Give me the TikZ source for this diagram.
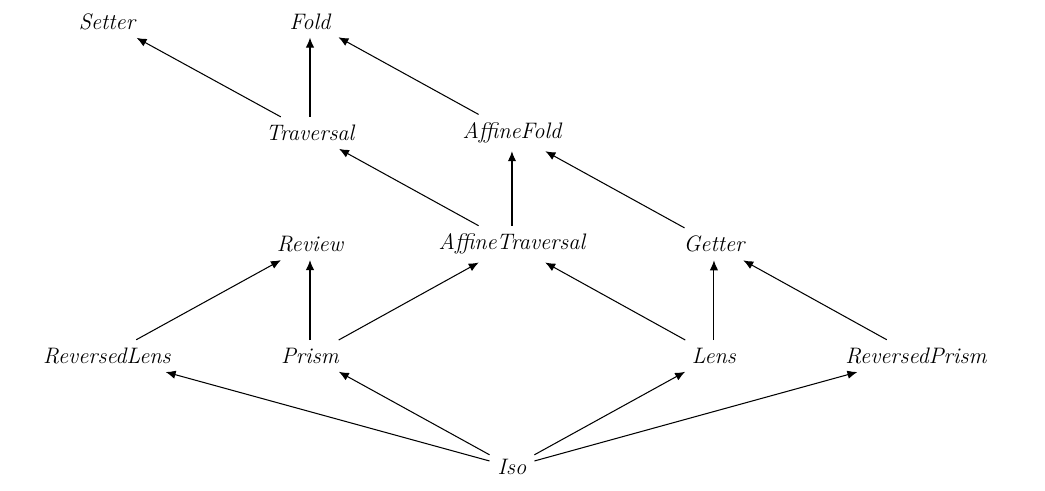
\documentclass[tikz,border=0pt]{standalone}
\usetikzlibrary{arrows.meta,positioning}

\begin{document}
\begin{tikzpicture}[->,>={Latex[length=1.85mm,width=1.55mm]},auto,line width=0.55pt]
\tikzstyle{optic}=[inner sep=4pt,font=\fontsize{11.8}{14}\selectfont\itshape]
\useasboundingbox (0,0) rectangle (19.35,9.09);

\node[optic]		(Setter)  at (1.98,8.69) {Setter};
\node[optic]		(Fold)    at (5.74,8.69) {Fold};
\node[optic]		(Trav)    at (5.74,6.63) {Traversal};
\node[optic]		(AFold)   at (9.48,6.63) {AffineFold};
\node[optic]		(Review)  at (5.74,4.57) {Review};
\node[optic]		(ATrav)   at (9.48,4.57) {AffineTraversal};
\node[optic]		(Getter)  at (13.22,4.57) {Getter};
\node[optic]		(RLens)   at (1.98,2.50) {ReversedLens};
\node[optic]		(Prism)   at (5.74,2.50) {Prism};
\node[optic]		(Lens)    at (13.22,2.50) {Lens};
\node[optic]		(RPrism)  at (16.96,2.50) {ReversedPrism};
\node[optic]		(Iso)     at (9.48,0.44) {Iso};

\path
(Trav) edge (Setter)
(Trav) edge (Fold)
(AFold) edge (Fold)
(ATrav) edge (Trav)
(ATrav) edge (AFold)
(Getter) edge (AFold)
(RLens) edge (Review)
(Prism) edge (Review)
(Prism) edge (ATrav)
(Lens) edge (ATrav)
(Lens) edge (Getter)
(RPrism) edge (Getter)
(Iso) edge (RLens)
(Iso) edge (Prism)
(Iso) edge (Lens)
(Iso) edge (RPrism)
;
\end{tikzpicture}
\end{document}
